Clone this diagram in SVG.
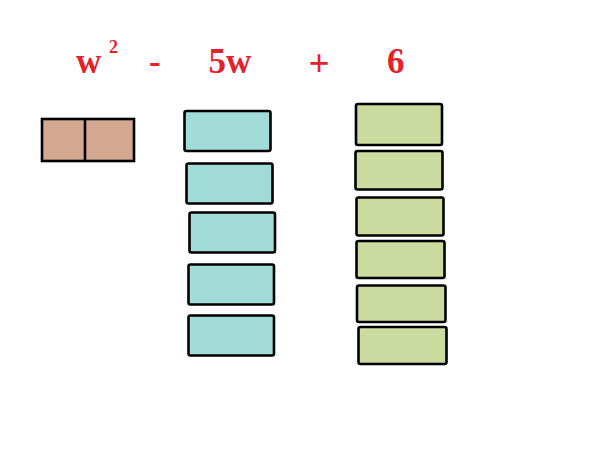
<svg xmlns="http://www.w3.org/2000/svg" width="600" height="450" viewBox="0 0 600 450">
<style>
.t{font-family:"Liberation Serif","Times New Roman",serif;font-weight:bold;fill:#e3222b;font-size:35px}
.sup{font-size:18px}
.plus{font-size:37px}
.b{stroke:#000;stroke-width:2.6}
.brown{fill:#d4a890}
.blue{fill:#a2dcd9}
.green{fill:#cbda9e}
</style>
<rect width="600" height="450" fill="#fff"/>
<g id="labels">
<text class="t" x="76" y="73">w</text>
<text class="t sup" x="109" y="53">2</text>
<text class="t" x="149" y="73">-</text>
<text class="t" x="208.5" y="73">5w</text>
<text class="t plus" x="308.5" y="76">+</text>
<text class="t" x="387" y="73">6</text>
</g>
<g id="w2">
<rect class="b brown" x="42" y="119" width="92" height="42"/>
<line class="b" x1="85" y1="119" x2="85" y2="161" stroke-width="3"/>
</g>
<g id="blue-tiles">
<rect class="b blue" x="184.5" y="111" width="86" height="40" rx="2"/>
<rect class="b blue" x="186.5" y="163.5" width="86" height="40" rx="2"/>
<rect class="b blue" x="189.5" y="212.5" width="85.5" height="40" rx="2"/>
<rect class="b blue" x="188.5" y="264.5" width="85.5" height="40" rx="2"/>
<rect class="b blue" x="188.5" y="315.5" width="85.5" height="40" rx="2"/>
</g>
<g id="green-tiles">
<rect class="b green" x="356" y="104" width="86" height="41" rx="2"/>
<rect class="b green" x="355.5" y="151" width="87" height="38.5" rx="2"/>
<rect class="b green" x="356.5" y="197.5" width="87" height="38" rx="2"/>
<rect class="b green" x="356.5" y="241" width="88" height="37" rx="2"/>
<rect class="b green" x="357" y="285.5" width="88.5" height="36.5" rx="2"/>
<rect class="b green" x="358.5" y="327" width="88" height="37" rx="2"/>
</g>
<g id="connectors"/>
</svg>
